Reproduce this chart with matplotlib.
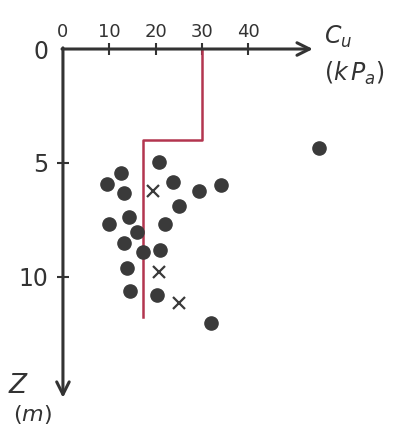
import matplotlib.pyplot as plt

# undrained shear strength profile: c_u (kPa) against depth z (m)
cu_dots = [20.7, 12.5, 9.5, 13.2, 23.8, 29.4, 34.1, 25.0, 14.2, 9.9, 22.0,
           16.0, 13.2, 17.3, 20.9, 13.8, 14.5, 20.3, 32.0, 55.3]
z_dots = [4.96, 5.44, 5.92, 6.32, 5.83, 6.23, 5.96, 6.89, 7.37, 7.68, 7.68,
          8.03, 8.51, 8.90, 8.82, 9.61, 10.61, 10.79, 12.02, 4.34]
cu_cross = [19.4, 20.7, 25.0]
z_cross = [6.23, 9.78, 11.14]

# design profile (step line)
cu_design = [30, 30, 17.3, 17.3]
z_design = [0, 4.0, 4.0, 11.75]

xticks = [0, 10, 20, 30, 40]
yticks = [0, 5, 10]

ink = '#333333'
red = '#b3354f'

fig = plt.figure(figsize=(4.05, 4.32), dpi=100)
ax = fig.add_axes([0, 0, 1, 1])
ax.set_xlim(-13.6, 73.9)
ax.set_ylim(16.8, -2.15)

# ticks sit on the lines through the origin; the lines themselves are arrows
for s in ['right', 'bottom', 'top', 'left']:
    ax.spines[s].set_visible(False)
ax.spines['top'].set_position(('data', 0))
ax.spines['left'].set_position(('data', 0))

ax.xaxis.tick_top()
ax.set_xticks(xticks)
ax.set_xticklabels([str(v) for v in xticks], fontsize=13, color=ink)
ax.set_yticks(yticks)
ax.set_yticklabels([str(v) for v in yticks], fontsize=17, color=ink)
ax.tick_params(axis='x', direction='inout', length=9, width=1.5, color=ink, pad=1)
ax.tick_params(axis='y', direction='inout', length=9, width=1.5, color=ink, pad=6)
ax.xaxis.get_major_ticks()[0].tick2line.set_visible(False)
ax.yaxis.get_major_ticks()[0].tick1line.set_visible(False)

arrow = dict(arrowstyle='->,head_length=0.9,head_width=0.45',
             color=ink, lw=2.2, shrinkA=0, shrinkB=0)
ax.annotate('', xy=(54, 0), xytext=(-0.2, 0), arrowprops=arrow)
ax.annotate('', xy=(0, 15.3), xytext=(0, -0.05), arrowprops=arrow)

ax.plot(cu_design, z_design, color=red, lw=1.8, zorder=2)
ax.plot(cu_dots, z_dots, 'o', ms=9.5, color='#3a3a3a', zorder=3)
ax.plot(cu_cross, z_cross, 'x', ms=9, mew=1.6, color='#3a3a3a', zorder=3)

# axis titles
ax.text(56.5, -0.55, r'$C_u$', fontsize=17, color=ink, ha='left', va='center')
ax.text(56.5, 1.05, r'$(k\,P_a)$', fontsize=17, color=ink, ha='left', va='center')
ax.text(-11.8, 14.8, r'$Z$', fontsize=19, color=ink, ha='left', va='center')
ax.text(-10.8, 16.05, r'$(m)$', fontsize=16, color=ink, ha='left', va='center')

fig.savefig('out.png', dpi=100)
